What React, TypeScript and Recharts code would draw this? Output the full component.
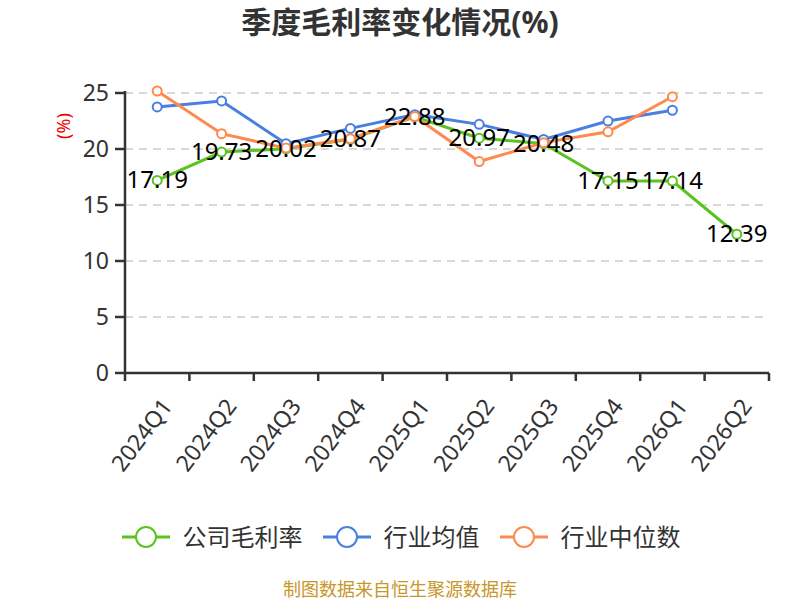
import React from 'react';
import { LineChart, Line, XAxis, YAxis, CartesianGrid, LabelList } from 'recharts';

const categories = ['2024Q1', '2024Q2', '2024Q3', '2024Q4', '2025Q1', '2025Q2', '2025Q3', '2025Q4', '2026Q1', '2026Q2'];
const companyMargin = [17.19, 19.73, 20.02, 20.87, 22.88, 20.97, 20.48, 17.15, 17.14, 12.39];
const industryAvg = [23.76, 24.29, 20.48, 21.84, 23.07, 22.2, 20.86, 22.5, 23.46, null];
const industryMedian = [25.18, 21.37, 20.08, 20.92, 22.9, 18.88, 20.57, 21.54, 24.67, null];
const yTicks = [0, 5, 10, 15, 20, 25];
const gridValues = [5, 10, 15, 20, 25];
const boundaryTicks = [-0.5, 0.5, 1.5, 2.5, 3.5, 4.5, 5.5, 6.5, 7.5, 8.5, 9.5];

const GREEN = '#5ac31f';
const BLUE = '#4a7fe0';
const ORANGE = '#ff8a4f';
const FONT = "'Noto Sans', 'Noto Sans CJK SC', sans-serif";

const data = categories.map((c, i) => ({
  idx: i,
  name: c,
  company: companyMargin[i],
  avg: industryAvg[i],
  median: industryMedian[i],
}));

const RotatedTick = (props: any) => {
  const { x, y, payload } = props;
  const ax = x + 9;
  const ay = y + 19;
  return (
    <text
      x={ax}
      y={ay}
      transform={`rotate(-53, ${ax}, ${ay})`}
      textAnchor="end"
      dominantBaseline="central"
      fontSize={23}
      fill="#333"
      fontFamily={FONT}
    >
      {categories[payload.value]}
    </text>
  );
};

const ValueLabel = (props: any) => {
  const { x, y, value } = props;
  return (
    <text x={x} y={y + 8} textAnchor="middle" fontSize={24} fill="#000" fontFamily={FONT}>
      {value}
    </text>
  );
};

const LegendItem = ({ color, text, last }: { color: string; text: string; last?: boolean }) => (
  <div style={{ display: 'flex', alignItems: 'center', marginRight: last ? 0 : 20 }}>
    <svg width={48} height={26}>
      <line x1={0} y1={13} x2={48} y2={13} stroke={color} strokeWidth={3} />
      <circle cx={24} cy={13} r={10} fill="#fff" stroke={color} strokeWidth={2} />
    </svg>
    <span style={{ marginLeft: 13, fontSize: 24, lineHeight: 1, color: '#333' }}>{text}</span>
  </div>
);

export default function App() {
  return (
    <div style={{ position: 'absolute', left: 0, top: 0, width: 800, height: 600, background: '#fff', fontFamily: FONT, overflow: 'hidden' }}>
      <div
        style={{
          position: 'absolute', top: 7, left: 0, width: 800, textAlign: 'center',
          fontSize: 30, lineHeight: 1, fontWeight: 'bold', color: '#333',
        }}
      >
        季度毛利率变化情况(%)
      </div>
      <div
        style={{
          position: 'absolute', left: 63, top: 126, transform: 'translate(-50%, -50%) rotate(-90deg)',
          fontSize: 18, lineHeight: 1, color: '#e00', whiteSpace: 'nowrap',
        }}
      >
        (%)
      </div>
      <LineChart width={800} height={600} data={data} margin={{ top: 91, right: 31, left: 0, bottom: 0 }}>
        <CartesianGrid vertical={false} horizontalValues={gridValues} stroke="#ccc" strokeDasharray="8 6" strokeWidth={1.5} />
        {/* axis line + ticks on category boundaries */}
        <XAxis
          dataKey="idx"
          type="number"
          domain={[-0.5, 9.5]}
          ticks={boundaryTicks}
          height={1}
          stroke="#333"
          strokeWidth={2.5}
          tickSize={8}
          tick={() => <g />}
        />
        {/* rotated labels on category centres */}
        <XAxis
          xAxisId="labels"
          dataKey="idx"
          type="number"
          domain={[-0.5, 9.5]}
          ticks={categories.map((_, i) => i)}
          height={226}
          axisLine={false}
          tickLine={false}
          tick={<RotatedTick />}
          interval={0}
        />
        <YAxis
          width={125}
          domain={[0, 25]}
          ticks={yTicks}
          stroke="#333"
          strokeWidth={2.5}
          tickSize={10}
          tickMargin={6}
          tick={{ fill: '#333', fontSize: 23, fontFamily: FONT }}
        />
        <Line
          dataKey="company"
          stroke={GREEN}
          strokeWidth={3}
          dot={{ r: 4.5, fill: '#fff', stroke: GREEN, strokeWidth: 2 }}
          isAnimationActive={false}
        >
          <LabelList dataKey="company" content={<ValueLabel />} />
        </Line>
        <Line
          dataKey="avg"
          stroke={BLUE}
          strokeWidth={3}
          dot={{ r: 4.5, fill: '#fff', stroke: BLUE, strokeWidth: 2 }}
          isAnimationActive={false}
        />
        <Line
          dataKey="median"
          stroke={ORANGE}
          strokeWidth={3}
          dot={{ r: 4.5, fill: '#fff', stroke: ORANGE, strokeWidth: 2 }}
          isAnimationActive={false}
        />
      </LineChart>
      <div
        style={{
          position: 'absolute', left: 0, top: 524, width: 800, display: 'flex', justifyContent: 'center',
          paddingLeft: 2, boxSizing: 'border-box',
        }}
      >
        <LegendItem color={GREEN} text="公司毛利率" />
        <LegendItem color={BLUE} text="行业均值" />
        <LegendItem color={ORANGE} text="行业中位数" last />
      </div>
      <div
        style={{
          position: 'absolute', left: 0, top: 580, width: 800, textAlign: 'center',
          fontSize: 18, lineHeight: 1, color: '#c8962b',
        }}
      >
        制图数据来自恒生聚源数据库
      </div>
    </div>
  );
}
